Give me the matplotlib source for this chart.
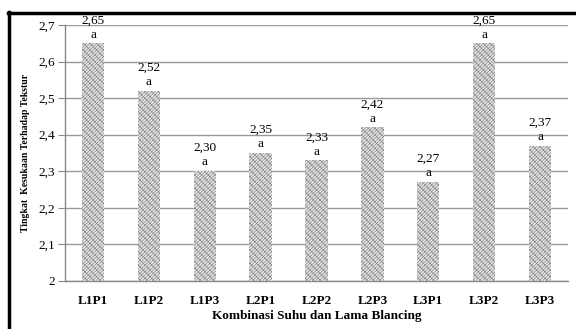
import matplotlib
matplotlib.use("Agg")
import matplotlib.pyplot as plt
from matplotlib.lines import Line2D

plt.rcParams['font.family'] = ['Liberation Serif', 'DejaVu Serif']
plt.rcParams['hatch.linewidth'] = 0.5

categories = ["L1P1", "L1P2", "L1P3", "L2P1", "L2P2", "L2P3", "L3P1", "L3P2", "L3P3"]
values = [2.65, 2.52, 2.30, 2.35, 2.33, 2.42, 2.27, 2.65, 2.37]
notation = ["a"] * len(categories)
y_ticks = [2.0, 2.1, 2.2, 2.3, 2.4, 2.5, 2.6, 2.7]

fig = plt.figure(figsize=(5.76, 3.29), dpi=100)
ax = fig.add_axes([0.113, 0.146, 0.873, 0.778])

x = range(len(categories))
ax.bar(x, [v - 2.0 for v in values], bottom=2.0, width=0.4, color="#e6e6e6",
       edgecolor="#8c8c8c", hatch="/" * 10 + "\\" * 5, linewidth=0, zorder=3)

for xi, v, n in zip(x, values, notation):
    ax.text(xi, v + 0.063, f"{v:.2f}".replace(".", ","), ha="center", va="center",
            fontsize=9.5, zorder=4)
    ax.text(xi, v + 0.024, n, ha="center", va="center", fontsize=9.5, zorder=4)

ax.set_xlim(-0.5, len(categories) - 0.5)
ax.set_ylim(2.0, 2.7)
ax.set_yticks(y_ticks)
ax.set_yticklabels([("2" if t == 2.0 else f"{t:.1f}".replace(".", ",")) for t in y_ticks],
                   fontsize=9.5)
ax.set_xticks(list(x))
ax.set_xticklabels(categories, fontsize=9.5, fontweight="bold")
ax.tick_params(axis="x", length=0, pad=10)
ax.tick_params(axis="y", length=5, color="#888888", pad=2, direction="out")
ax.yaxis.grid(True, color="#999999", linewidth=1, zorder=0)
ax.set_axisbelow(True)
for side in ("top", "right"):
    ax.spines[side].set_visible(False)
for side in ("left", "bottom"):
    ax.spines[side].set_color("#888888")
    ax.spines[side].set_linewidth(1)

ax.set_xlabel("Kombinasi Suhu dan Lama Blancing", fontsize=9.5, fontweight="bold", labelpad=2)
ax.set_ylabel("Tingkat  Kesukaan Terhadap Tekstur", fontsize=7, fontweight="bold", labelpad=6)

# outer frame (top and left edges)
fig.add_artist(Line2D([8 / 576, 1.0], [1 - 12.5 / 329, 1 - 12.5 / 329],
                      transform=fig.transFigure, color="black", linewidth=2.5))
fig.add_artist(Line2D([9 / 576, 9 / 576], [0.0, 1 - 11.5 / 329],
                      transform=fig.transFigure, color="black", linewidth=2.5))

fig.savefig("out.png", dpi=100)
